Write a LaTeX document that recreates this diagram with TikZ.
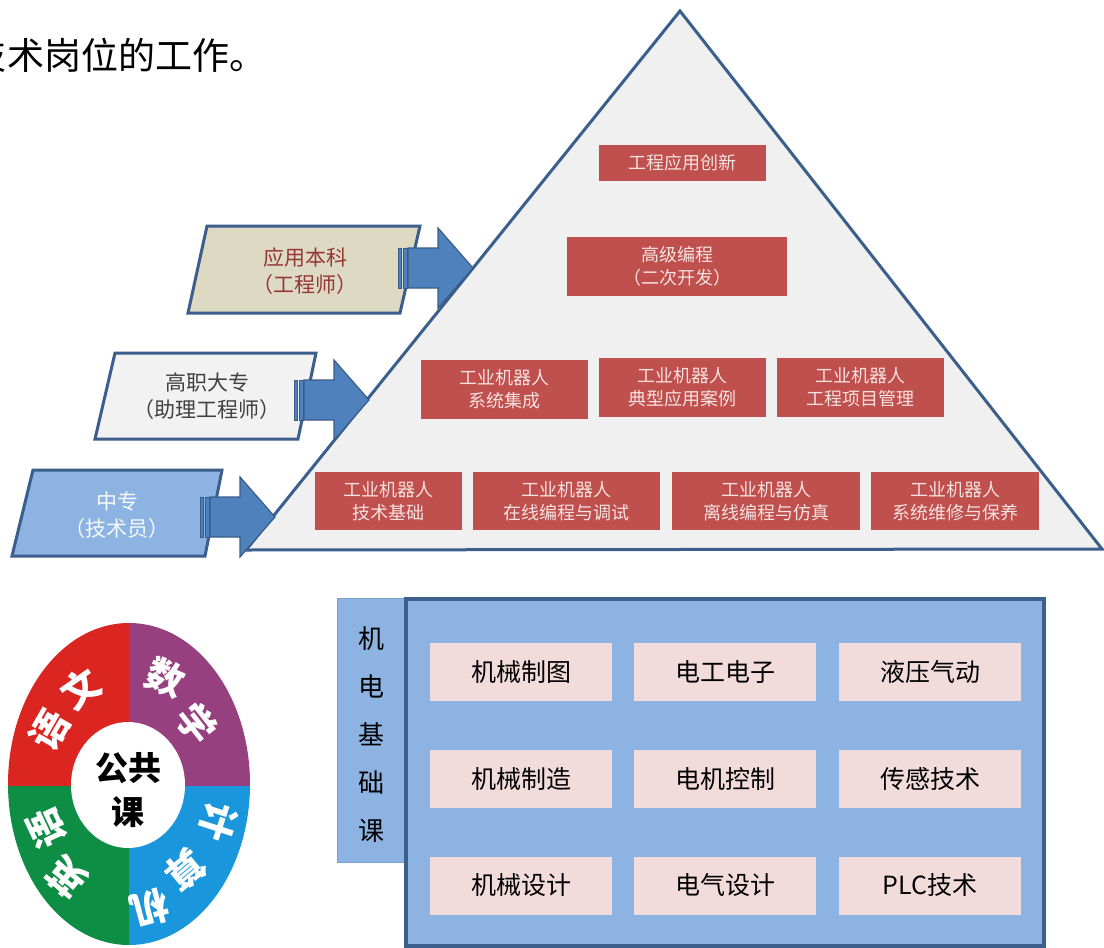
\documentclass[tikz,border=0pt]{standalone}
\usepackage{fontspec}
\setmainfont{Noto Sans CJK SC}
\definecolor{pyrfill}{HTML}{F0F0F0}
\definecolor{pyrline}{HTML}{3B5E8C}
\definecolor{redbox}{HTML}{C0504D}
\definecolor{redtxt}{HTML}{F4E2E1}
\definecolor{tan}{HTML}{DDD9C3}
\definecolor{tantxt}{HTML}{953735}
\definecolor{lgray}{HTML}{F2F2F2}
\definecolor{graytxt}{HTML}{404040}
\definecolor{lblue}{HTML}{8DB3E2}
\definecolor{arrfill}{HTML}{4F81BD}
\definecolor{arrline}{HTML}{385D8A}
\definecolor{ringred}{HTML}{DA2520}
\definecolor{ringpur}{HTML}{97407F}
\definecolor{ringgrn}{HTML}{0E8D45}
\definecolor{ringblu}{HTML}{1A96DC}
\definecolor{pinkbox}{HTML}{F2DCDB}
\definecolor{mainline}{HTML}{3C5F8E}
\definecolor{lblline}{HTML}{7F9FCB}
\begin{document}
\begin{tikzpicture}[x=1pt,y=-1pt,
  rbox/.style 2 args={fill=redbox, text=redtxt, inner sep=0pt, align=center,
    minimum width=#1pt, minimum height=#2pt, font=\fontsize{18}{23}\selectfont},
  pbox/.style={fill=pinkbox, text=black, inner sep=0pt, minimum width=182pt,
    minimum height=58pt, font=\fontsize{25}{30}\selectfont},
  para/.style={draw=pyrline, line width=3pt, line join=miter},
  paratxt/.style={align=center, inner sep=0pt, font=\fontsize{21}{27}\selectfont},
  ringtxt/.style={text=white, inner sep=0pt, font=\fontsize{38}{38}\selectfont\bfseries},
  sarrow/.pic={
    \filldraw[fill=arrfill, draw=arrline, line width=1pt] (0,-20) rectangle (3,20);
    \filldraw[fill=arrfill, draw=arrline, line width=1pt] (5,-20) rectangle (9,20);
    \filldraw[fill=arrfill, draw=arrline, line width=1.2pt, line join=miter]
      (10,-20) -- (40,-20) -- (40,-40) -- (75,0) -- (40,40) -- (40,20) -- (10,20) -- cycle;
  }]
\useasboundingbox (0,0) rectangle (1104,948);

% top sentence (its first character is cut by the left edge)
\begin{scope}
\clip (0,0) rectangle (1104,948);
\node[anchor=east, inner sep=0pt, font=\fontsize{37}{37}\selectfont] (sent0) at (7,55) {技};
\end{scope}
\node[anchor=west, inner sep=0pt, font=\fontsize{37}{37}\selectfont] (sent) at (7,55) {术岗位的工作。};

% pyramid
\coordinate (apex) at (680,11);
\coordinate (bl) at (246,550);
\coordinate (br) at (1102,549);
\filldraw[fill=pyrfill, draw=pyrline, line width=3pt, line join=miter] (apex) -- (br) -- (bl) -- cycle;

% pyramid boxes
\node[rbox={167}{36}] (t1) at (682.5,163) {工程应用创新};
\node[rbox={220}{59}] (t2) at (677,266.5) {高级编程\\（二次开发）};
\node[rbox={167}{59}] (r3a) at (504.5,389.5) {工业机器人\\系统集成};
\node[rbox={167}{59}] (r3b) at (682.5,387.5) {工业机器人\\典型应用案例};
\node[rbox={167}{59}] (r3c) at (860.5,387.5) {工业机器人\\工程项目管理};
\node[rbox={147}{58}] (r4a) at (388.5,501) {工业机器人\\技术基础};
\node[rbox={187}{58}] (r4b) at (566.5,501) {工业机器人\\在线编程与调试};
\node[rbox={188}{58}] (r4c) at (766,501) {工业机器人\\离线编程与仿真};
\node[rbox={168}{58}] (r4d) at (955,501) {工业机器人\\系统维修与保养};

% left parallelograms
\filldraw[para, fill=tan] (207,226) -- (420,226) -- (400,313) -- (188,313) -- cycle;
\node[paratxt, text=tantxt] (l1) at (305,271) {应用本科\\（工程师）};
\filldraw[para, fill=lgray] (115,353) -- (316,353) -- (298,439) -- (95,439) -- cycle;
\node[paratxt, text=graytxt] (l2) at (207,396) {高职大专\\（助理工程师）};
\filldraw[para, fill=lblue] (33,470) -- (222,470) -- (205,556) -- (12,556) -- cycle;
\node[paratxt, text=white!92!lblue] (l3) at (117,515) {中专\\（技术员）};

% striped arrows
\pic at (398,268) {sarrow};
\pic at (294,400) {sarrow};
\pic at (200,517) {sarrow};

% ring of public courses
\begin{scope}
\clip (129,784) ellipse [x radius=121pt, y radius=161pt];
\fill[ringred] (0,600) rectangle (129,786);
\fill[ringpur] (129,600) rectangle (260,786);
\fill[ringgrn] (0,786) rectangle (129,950);
\fill[ringblu] (129,786) rectangle (260,950);
\end{scope}
\fill[white] (128,785) ellipse [x radius=57pt, y radius=63pt];
\node[inner sep=0pt, align=center, font=\fontsize{33}{44}\selectfont\bfseries] (pub) at (128,790) {公共\\课};
\node[ringtxt, rotate=60] (c1) at (50,730) {语};
\node[ringtxt, rotate=35] (c2) at (81,689) {文};
\node[ringtxt, rotate=-23] (c3) at (166,678) {数};
\node[ringtxt, rotate=-52] (c4) at (197,723) {学};
\node[ringtxt, rotate=-108] (c5) at (218,822) {计};
\node[ringtxt, rotate=-140] (c6) at (185,870) {算};
\node[ringtxt, rotate=-165] (c7) at (150,908) {机};
\node[ringtxt, rotate=140] (c8) at (67,877) {英};
\node[ringtxt, rotate=115] (c9) at (47,828) {语};

% mechatronics basic courses
\filldraw[fill=lblue, draw=lblline, line width=1pt] (337,598) rectangle (405,862);
\node[inner sep=0pt, align=center, font=\fontsize{26}{48}\selectfont] (lbl) at (371,735) {机\\电\\基\\础\\课};
\filldraw[fill=lblue, draw=mainline, line width=4pt] (406,599) rectangle (1044,946);
\node[pbox] (b11) at (521,672) {机械制图};
\node[pbox] (b12) at (725,672) {电工电子};
\node[pbox] (b13) at (930,672) {液压气动};
\node[pbox] (b21) at (521,779) {机械制造};
\node[pbox] (b22) at (725,779) {电机控制};
\node[pbox] (b23) at (930,779) {传感技术};
\node[pbox] (b31) at (521,885.5) {机械设计};
\node[pbox] (b32) at (725,885.5) {电气设计};
\node[pbox] (b33) at (930,885.5) {PLC技术};
\end{tikzpicture}
\end{document}
